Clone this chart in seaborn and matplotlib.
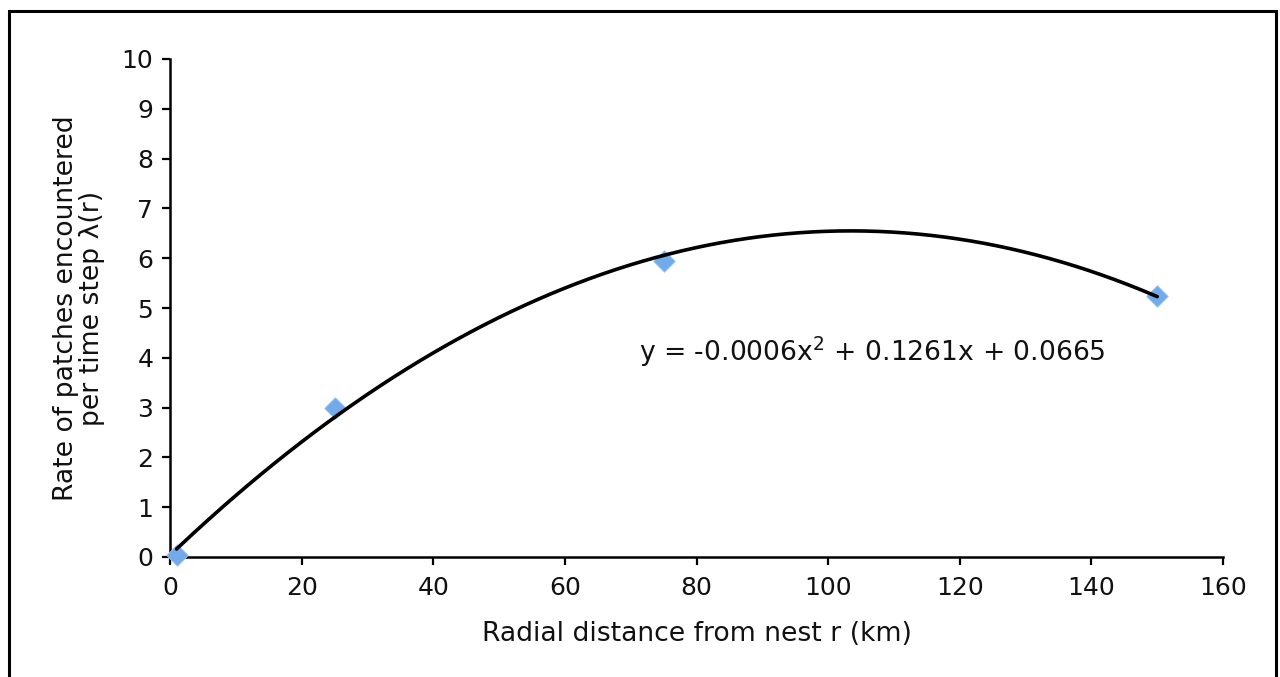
import numpy as np
import pandas as pd
import matplotlib
matplotlib.use("Agg")
import matplotlib.pyplot as plt
import seaborn as sns
from matplotlib.patches import Rectangle

# Data
radial_km = [1, 25, 75, 150]
rate = [0.05, 3.0, 5.95, 5.25]
x_ticks = [0, 20, 40, 60, 80, 100, 120, 140, 160]
y_ticks = [0, 1, 2, 3, 4, 5, 6, 7, 8, 9, 10]
equation = "y = -0.0006x$^{2}$ + 0.1261x + 0.0665"

sns.set_style("ticks")
plt.rcParams['font.family'] = ['DejaVu Sans']
plt.rcParams['mathtext.fontset'] = 'dejavusans'
plt.rcParams['text.color'] = '#111111'
plt.rcParams['axes.labelcolor'] = '#111111'

fig = plt.figure(figsize=(12.8, 6.77), dpi=100)
ax = fig.add_axes([170/1280, 1-557/677, (1223-170)/1280, (557-59)/677])

df = pd.DataFrame({"r": radial_km, "lam": rate})
coef = np.polyfit(df["r"], df["lam"], 2)
xs = np.linspace(min(radial_km), max(radial_km), 300)
fit = pd.DataFrame({"r": xs, "lam": np.polyval(coef, xs)})

sns.scatterplot(data=df, x="r", y="lam", ax=ax, marker="D", s=120,
                color="#72aaea", edgecolor="#9cc4f2", linewidth=0.6, zorder=3, clip_on=False)
sns.lineplot(data=fit, x="r", y="lam", ax=ax, color="black", linewidth=2.6, zorder=4)

ax.set_xlim(0, 160)
ax.set_ylim(0, 10)
ax.set_xticks(x_ticks)
ax.set_yticks(y_ticks)
fs = 18
fs_lab = 19.2
ax.tick_params(axis="both", labelsize=fs, direction="out", length=6, width=1.6,
               colors="black", labelcolor="#111111")
ax.tick_params(axis="x", pad=8)
ax.tick_params(axis="y", pad=6)
for s in ["left", "bottom"]:
    ax.spines[s].set_linewidth(1.8)
    ax.spines[s].set_color("black")
for s in ["top", "right"]:
    ax.spines[s].set_visible(False)

ax.set_xlabel("Radial distance from nest r (km)", fontsize=fs_lab, labelpad=15)
ax.set_ylabel("Rate of patches encountered\nper time step λ(r)", fontsize=fs_lab,
              labelpad=12, linespacing=1.0)

ax.text(71.3, 4.12, equation, fontsize=fs_lab, ha="left", va="center")

fig.patches.append(Rectangle((9/1280, -0.01), (1276-9)/1280, 1 - 11/677 + 0.01,
                             transform=fig.transFigure, fill=False,
                             edgecolor="black", linewidth=2.2, zorder=10))

fig.savefig("out.png", dpi=100)
